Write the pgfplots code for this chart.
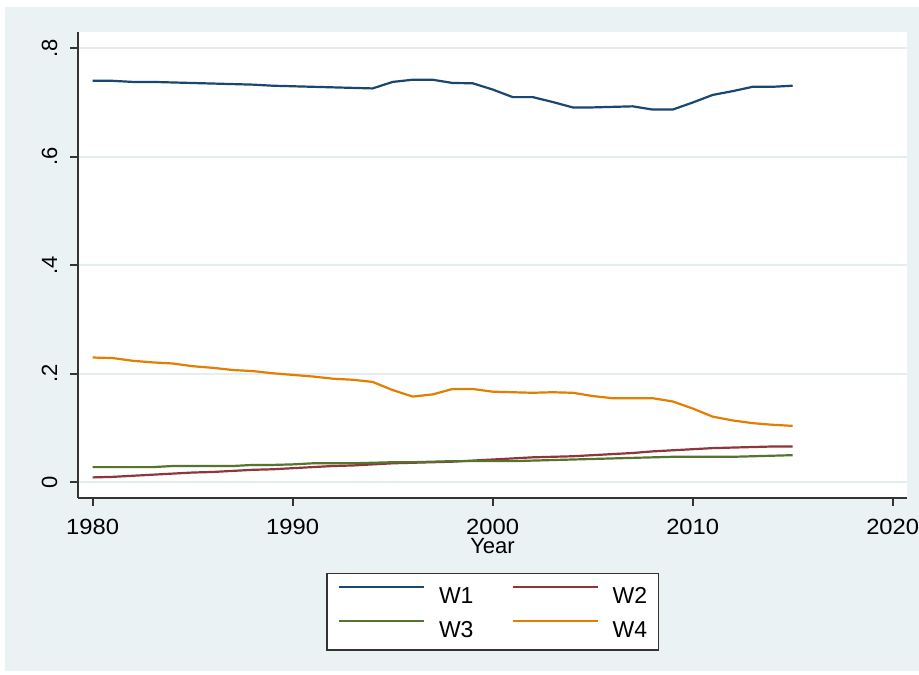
\documentclass[border=0pt]{standalone}
\usepackage{fontspec}
\setmainfont{Liberation Sans}
\newfontfamily\tickfont{Liberation Sans}[FakeStretch=1.08]
\usepackage{pgfplots}
\usepackage{pgfplotstable}
\pgfplotsset{compat=1.18}
\definecolor{bgc}{RGB}{234,242,243}
\definecolor{gridc}{RGB}{228,237,240}
\definecolor{snavy}{RGB}{26,71,111}
\definecolor{smaroon}{RGB}{144,53,59}
\definecolor{sgreen}{RGB}{85,117,47}
\definecolor{sorange}{RGB}{227,126,0}
\definecolor{axc}{RGB}{51,51,51}

\pgfplotstableread{
year w1 w2 w3 w4
1980 0.740 0.009 0.028 0.230
1981 0.740 0.010 0.028 0.229
1982 0.738 0.012 0.028 0.224
1983 0.738 0.014 0.028 0.221
1984 0.737 0.016 0.030 0.219
1985 0.736 0.018 0.030 0.214
1986 0.735 0.019 0.030 0.211
1987 0.734 0.021 0.030 0.207
1988 0.733 0.023 0.032 0.205
1989 0.731 0.024 0.032 0.201
1990 0.730 0.026 0.033 0.198
1991 0.729 0.028 0.035 0.195
1992 0.728 0.030 0.035 0.191
1993 0.727 0.031 0.035 0.189
1994 0.726 0.033 0.036 0.185
1995 0.738 0.035 0.037 0.170
1996 0.742 0.036 0.037 0.158
1997 0.742 0.037 0.038 0.162
1998 0.736 0.038 0.039 0.172
1999 0.7355 0.040 0.039 0.172
2000 0.724 0.042 0.039 0.167
2001 0.710 0.044 0.039 0.166
2002 0.710 0.046 0.040 0.165
2003 0.701 0.047 0.041 0.166
2004 0.691 0.048 0.042 0.165
2005 0.691 0.050 0.043 0.159
2006 0.692 0.052 0.044 0.155
2007 0.693 0.054 0.045 0.155
2008 0.687 0.057 0.046 0.155
2009 0.687 0.059 0.047 0.149
2010 0.700 0.061 0.047 0.136
2011 0.714 0.063 0.047 0.121
2012 0.721 0.064 0.047 0.114
2013 0.729 0.065 0.048 0.109
2014 0.729 0.066 0.049 0.106
2015 0.731 0.066 0.050 0.104
}\data

\begin{document}
\begin{tikzpicture}
\path[use as bounding box, fill=white] (-39pt,-88.15pt) rectangle (420.5pt,248.85pt);
\fill[bgc] (-36.5pt,-86.65pt) rectangle (420.5pt,245.35pt);
\begin{axis}[
  at={(0,0)}, anchor=south west,
  scale only axis, width=414.5pt, height=232.85pt,
  xmin=1979.27, xmax=2020.715, ymin=-0.0284, ymax=0.83,
  axis background/.style={fill=white},
  axis x line*=bottom, axis y line*=left,
  axis line style={-, draw=axc, line width=0.9pt},
  tick align=outside, major tick length=4pt,
  tick style={draw=axc, line width=0.9pt},
  xtick={1980,1990,2000,2010,2020}, xticklabels={1980,1990,2000,2010,2020},
  ytick={0,0.2,0.4,0.6,0.8}, yticklabels={0,.2,.4,.6,.8},
  ymajorgrids, grid style={draw=gridc, line width=1pt},
  ticklabel style={font=\fontsize{11}{13}\selectfont},
  xticklabel style={anchor=center, yshift=-10.8pt, inner sep=0pt, font=\tickfont\fontsize{11}{13}\selectfont},
  yticklabel style={xshift=-10.25pt, rotate=90, anchor=center, inner sep=0pt},
  xlabel={Year},
  xlabel style={at={(axis description cs:0.5,0)}, anchor=center, yshift=-24.4pt, inner sep=0pt, font=\fontsize{11}{13}\selectfont},
  legend columns=2,
  legend style={at={(0.5,-0.1617)}, anchor=north, draw=black!80, line width=0.7pt, fill=white,
    font=\fontsize{11.5}{13}\selectfont, inner xsep=5.5pt, inner ysep=6.2pt,
    row sep=8.2pt,
    nodes={inner sep=0pt, text height=8.3pt, text depth=0pt},
    /tikz/every odd column/.append style={column sep=7pt},
    /tikz/every even column/.append style={column sep=19pt}},
  legend image code/.code={\draw[#1, line width=1.1pt] (0pt,4.1pt) -- (42.5pt,4.1pt);},
]
\addplot[snavy, line width=1.1pt] table[x=year,y=w1]{\data};
\addlegendentry{W1}
\addplot[smaroon, line width=1.1pt] table[x=year,y=w2]{\data};
\addlegendentry{W2}
\addplot[sgreen, line width=1.1pt] table[x=year,y=w3]{\data};
\addlegendentry{W3}
\addplot[sorange, line width=1.1pt] table[x=year,y=w4]{\data};
\addlegendentry{W4}
\end{axis}
\end{tikzpicture}
\end{document}
